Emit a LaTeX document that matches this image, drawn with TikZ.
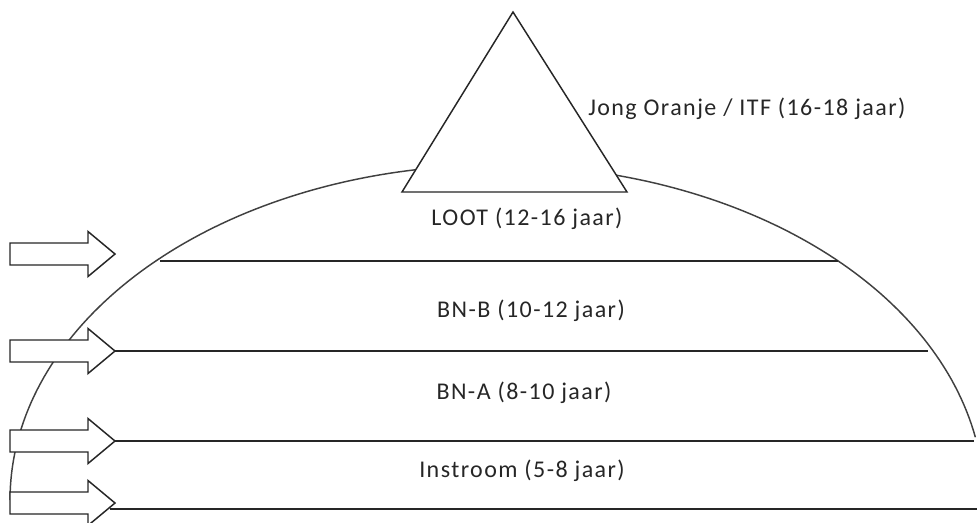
\documentclass[tikz,border=0pt]{standalone}
\usepackage{fontspec}
\setmainfont{Carlito}[LetterSpace=6]
\usepackage{tikz}
\usetikzlibrary{positioning}

\begin{document}
\begin{tikzpicture}[x=0.75pt, y=-0.75pt,
    level_line/.style={draw=black!85, line width=1.1pt},
    dome_line/.style={draw=black!75, line width=1.1pt},
    level_label/.style={inner sep=0pt, text=black!85, font=\fontsize{18}{20}\selectfont},
    arrow_shape/.style={draw=black!85, line width=1.1pt, fill=white, line join=miter},
    entry_arrow/.pic={\path[arrow_shape] (-105,-11) -- (-27,-11) -- (-27,-22.5) -- (0,0)
        -- (-27,22.5) -- (-27,11) -- (-105,11) -- cycle;}]
    \useasboundingbox (0,0) rectangle (977,522);

    % Dome
    \draw[dome_line] plot[domain=10.8:180, samples=150] ({497+487*cos(\x)}, {500-335*sin(\x)});

    % Level lines
    \coordinate (tip1) at (115,254);
    \coordinate (tip2) at (115,351);
    \coordinate (tip3) at (115,441);
    \coordinate (tip4) at (115,503);
    \coordinate (line1_left) at (160,261);
    \coordinate (line1_right) at (838,261);
    \coordinate (line2_right) at (928,351);
    \coordinate (line3_right) at (974,441);
    \coordinate (line4_left) at (110,509);
    \coordinate (line4_right) at (977,509);
    \draw[level_line] (line1_left) -- (line1_right);
    \draw[level_line] (tip2) -- (line2_right);
    \draw[level_line] (tip3) -- (line3_right);
    \draw[level_line] (line4_left) -- (line4_right);

    % Top triangle
    \coordinate (apex) at (513,12);
    \coordinate (base_left) at (402,192);
    \coordinate (base_right) at (627,192);
    \draw[arrow_shape] (base_left) -- (apex) -- (base_right) -- cycle;

    % Entry arrows
    \pic at (tip1) {entry_arrow};
    \pic at (tip2) {entry_arrow};
    \pic at (tip3) {entry_arrow};
    \pic at (tip4) {entry_arrow};

    % Labels
    \node[level_label, anchor=base west] (jong) at (588,115) {Jong Oranje / ITF (16-18 jaar)};
    \node[level_label, anchor=base] (loot) at (527,225) {LOOT (12-16 jaar)};
    \node[level_label, anchor=base] (bnb) at (531,317) {BN-B (10-12 jaar)};
    \node[level_label, anchor=base] (bna) at (524,399) {BN-A (8-10 jaar)};
    \node[level_label, anchor=base] (instroom) at (522,477) {Instroom (5-8 jaar)};
\end{tikzpicture}
\end{document}
